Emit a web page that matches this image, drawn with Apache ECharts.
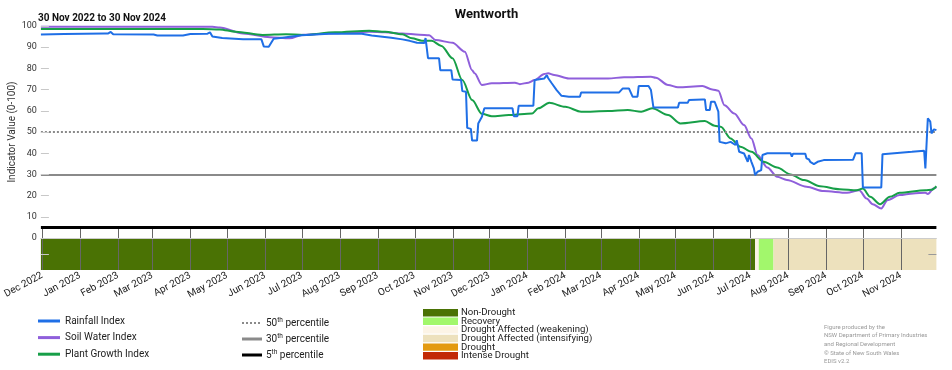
<!DOCTYPE html>
<html>
<head>
<meta charset="utf-8">
<script src="https://cdn.jsdelivr.net/npm/echarts@6/dist/echarts.min.js"></script>
<style>html,body{margin:0;padding:0;background:#fff;}#c{width:952px;height:370px;}</style>
</head>
<body>
<div id="c"></div>
<script>
// ---------- DATA ----------
const rainDates = ['2022-11-30','2022-12-19','2023-01-21','2023-01-24','2023-01-26','2023-01-28','2023-03-02','2023-03-05','2023-03-26','2023-04-01','2023-04-15','2023-04-17','2023-04-19','2023-04-27','2023-05-14','2023-05-29','2023-05-31','2023-06-04','2023-06-08','2023-06-15','2023-07-01','2023-07-23','2023-08-19','2023-08-27','2023-09-12','2023-09-21','2023-09-27','2023-10-03','2023-10-09','2023-10-10','2023-10-11','2023-10-12','2023-10-21','2023-10-22','2023-10-31','2023-11-01','2023-11-08','2023-11-09','2023-11-12','2023-11-13','2023-11-16','2023-11-17','2023-11-21','2023-11-22','2023-11-25','2023-11-27','2023-12-20','2023-12-21','2023-12-24','2023-12-25','2024-01-06','2024-01-07','2024-01-15','2024-01-17','2024-01-18','2024-01-21','2024-01-25','2024-01-29','2024-02-04','2024-02-13','2024-02-14','2024-03-16','2024-03-19','2024-03-24','2024-03-27','2024-03-31','2024-04-01','2024-04-09','2024-04-11','2024-04-13','2024-05-03','2024-05-04','2024-05-11','2024-05-12','2024-05-23','2024-05-25','2024-05-26','2024-05-29','2024-05-30','2024-06-02','2024-06-05','2024-06-06','2024-06-11','2024-06-15','2024-06-19','2024-06-20','2024-06-22','2024-06-26','2024-06-29','2024-06-30','2024-07-02','2024-07-04','2024-07-05','2024-07-07','2024-07-10','2024-07-11','2024-07-15','2024-08-03','2024-08-04','2024-08-05','2024-08-15','2024-08-16','2024-08-18','2024-08-19','2024-08-22','2024-08-25','2024-08-30','2024-09-23','2024-09-25','2024-09-30','2024-10-01','2024-10-16','2024-10-17','2024-11-10','2024-11-20','2024-11-21','2024-11-23','2024-11-25','2024-11-26','2024-11-28','2024-11-30'];
const rainValues = [96.0,96.2,96.5,96.5,97.2,96.1,96.0,95.5,95.5,96.2,96.4,97.0,95.0,94.3,93.8,93.7,90.3,90.2,94.0,94.5,95.6,96.3,96.3,95.5,94.5,93.7,93.0,92.1,92.0,94.3,94.3,84.8,84.8,79.2,79.2,74.8,74.5,69.3,69.0,52.0,51.5,46.0,46.0,54.0,57.2,61.2,61.2,57.5,57.5,62.4,62.4,74.5,75.3,76.9,75.5,73.0,69.8,67.1,66.7,66.7,68.7,68.7,70.6,70.6,66.7,66.7,71.7,71.7,69.8,61.6,61.6,63.8,63.8,65.1,65.4,65.4,60.4,60.4,64.3,64.3,59.6,45.4,44.7,45.4,43.9,46.2,40.7,39.9,36.0,39.2,36.0,32.9,29.7,31.3,32.1,39.2,40.0,40.0,38.4,39.8,39.8,37.6,37.1,36.0,34.9,36.0,36.8,37.0,40.0,40.0,23.9,23.9,39.6,40.7,41.2,32.9,56.5,54.9,49.4,51.3,50.9];

const soilDates = ['2022-11-30','2023-04-19','2023-04-25','2023-05-14','2023-06-05','2023-06-21','2023-07-02','2023-07-28','2023-08-25','2023-09-07','2023-09-21','2023-10-05','2023-10-13','2023-10-18','2023-11-01','2023-11-11','2023-11-17','2023-11-19','2023-11-25','2023-12-03','2023-12-22','2023-12-26','2024-01-02','2024-01-07','2024-01-15','2024-01-18','2024-01-23','2024-02-04','2024-03-07','2024-03-20','2024-04-11','2024-04-15','2024-04-25','2024-05-03','2024-05-23','2024-05-31','2024-06-05','2024-06-10','2024-06-18','2024-06-26','2024-07-02','2024-07-07','2024-07-15','2024-07-23','2024-07-31','2024-08-16','2024-08-30','2024-09-18','2024-09-28','2024-10-04','2024-10-09','2024-10-16','2024-10-21','2024-10-31','2024-11-11','2024-11-21','2024-11-23','2024-11-28','2024-11-30'];
const soilValues = [99.7,99.6,99.3,96.5,94.7,94.2,95.9,96.6,97.3,97.0,96.5,95.9,95.6,93.4,92.1,87.9,79.2,77.7,72.2,73.0,73.3,72.6,73.3,74.5,77.4,77.7,76.9,75.3,75.3,75.8,76.1,75.6,72.2,71.1,71.7,70.1,69.5,62.7,58.8,53.3,47.0,39.2,33.3,28.9,27.4,24.2,22.2,21.4,22.6,18.7,16.0,14.0,17.9,20.3,21.1,21.4,20.8,23.5,24.0];

const plantDates = ['2022-11-30','2023-04-11','2023-04-25','2023-05-08','2023-05-30','2023-06-18','2023-07-02','2023-07-28','2023-08-25','2023-09-07','2023-09-21','2023-09-29','2023-10-07','2023-10-15','2023-10-23','2023-11-01','2023-11-09','2023-11-17','2023-11-25','2023-12-03','2023-12-17','2024-01-05','2024-01-10','2024-01-19','2024-02-01','2024-02-14','2024-03-07','2024-03-23','2024-04-03','2024-04-12','2024-04-25','2024-05-05','2024-05-25','2024-06-02','2024-06-07','2024-06-15','2024-06-23','2024-07-02','2024-07-12','2024-07-23','2024-08-03','2024-08-14','2024-08-27','2024-09-12','2024-09-26','2024-10-01','2024-10-07','2024-10-15','2024-10-23','2024-10-31','2024-11-21','2024-11-26','2024-11-30'];
const plantValues = [98.6,98.6,98.4,97.3,95.8,96.1,95.8,97.0,97.8,97.3,96.1,94.2,93.1,93.0,90.6,84.8,74.5,65.1,58.6,57.5,58.0,58.8,61.2,63.8,61.9,59.6,59.9,60.4,59.6,61.2,58.0,54.1,55.2,53.0,52.5,47.0,43.1,40.7,36.0,33.3,30.0,27.4,24.5,23.1,22.6,23.4,19.5,16.0,19.5,21.4,22.6,22.8,24.5];

const droughtStart = ['2022-11-30','2024-07-05','2024-07-08','2024-07-20'];
const droughtEnd   = ['2024-07-05','2024-07-08','2024-07-20','2024-11-30'];
const droughtCategory = ['Non-Drought','Drought Affected (weakening)','Recovery','Drought Affected (intensifying)'];

const categoryNames = ['Non-Drought','Recovery','Drought Affected (weakening)','Drought Affected (intensifying)','Drought','Intense Drought'];
const percentileNames = ['50','30','5'];
const percentileValues = [50, 30, 5];

const monthTicks = ['2022-12-01','2023-01-01','2023-02-01','2023-03-01','2023-04-01','2023-05-01','2023-06-01','2023-07-01','2023-08-01','2023-09-01','2023-10-01','2023-11-01','2023-12-01','2024-01-01','2024-02-01','2024-03-01','2024-04-01','2024-05-01','2024-06-01','2024-07-01','2024-08-01','2024-09-01','2024-10-01','2024-11-01'];
const yTickLabels = [0,10,20,30,40,50,60,70,80,90,100];

// ---------- STYLE ----------
const FONT = 'Roboto, "Liberation Sans", sans-serif';
const categoryColors = {
  'Non-Drought':'#4a7204',
  'Recovery':'#a2f76c',
  'Drought Affected (weakening)':'#fcf4e6',
  'Drought Affected (intensifying)':'#ede1bd',
  'Drought':'#e39a10',
  'Intense Drought':'#c22a06'
};
const seriesColors = {rain:'#1f6fe6', soil:'#8f5fdb', plant:'#179f48'};
const pctStyles = [
  {color:'#8a8a8a', width:2, type:[2,2]},
  {color:'#8a8a8a', width:2, type:'solid'},
  {color:'#000000', width:3, type:'solid'}
];
const MONTHS = ['Jan','Feb','Mar','Apr','May','Jun','Jul','Aug','Sep','Oct','Nov','Dec'];

const pd = s => { const p = s.split('-').map(Number); return Date.UTC(p[0], p[1]-1, p[2]); };
const zip = (d, v) => d.map((x, i) => [pd(x), v[i]]);

const chart = echarts.init(document.getElementById('c'), null, {renderer:'canvas'});

const legendGraphics = [];
percentileNames.forEach((p, i) => {
  const y = 323 + i * 16;
  legendGraphics.push({type:'line', shape:{x1:242, y1:y, x2:262, y2:y}, style:{stroke:pctStyles[i].color, lineWidth: i===0 ? 2 : 3, lineDash: i===0 ? [2,2] : null}});
  legendGraphics.push({type:'text', x:266, y:y, style:{text:'{a|'+p+'}{s|th}{a| percentile}', textVerticalAlign:'middle', rich:{a:{fontSize:10, fontFamily:FONT, fill:'#222'}, s:{fontSize:6.5, fontFamily:FONT, fill:'#222', verticalAlign:'top', padding:[0,0,5,0]}}}});
});
categoryNames.forEach((c, i) => {
  const y = 309 + i * 8.6;
  legendGraphics.push({type:'rect', shape:{x:423, y:y, width:35, height:7.4}, style:{fill:categoryColors[c]}});
  legendGraphics.push({type:'text', x:461, y:y + 3.8, style:{text:c, fontSize:9.6, fontFamily:FONT, fill:'#222', textVerticalAlign:'middle'}});
});

chart.setOption({
  animation:false,
  textStyle:{fontFamily:FONT},
  grid:{left:37.7, right:15.6, top:26, bottom:100},
  legend:{
    data:['Rainfall Index','Soil Water Index','Plant Growth Index'],
    orient:'vertical', left:38, top:314.5, height:60, padding:0, icon:'rect', itemWidth:22, itemHeight:3,
    itemGap:3.6, textStyle:{fontSize:10, color:'#222', lineHeight:13, fontFamily:FONT}
  },
  xAxis:{
    type:'value', min:pd('2022-11-30'), max:pd('2024-11-30'), z:10, scale:true,
    axisLine:{show:true, lineStyle:{color:'#cccccc', width:1}},
    axisTick:{show:false},
    axisLabel:{customValues:monthTicks.map(pd), rotate:28, margin:5, fontSize:10, color:'#222', fontFamily:FONT,
      formatter:v => { const d = new Date(v); return MONTHS[d.getUTCMonth()] + ' ' + d.getUTCFullYear(); }},
    splitLine:{show:false}
  },
  yAxis:[{
    type:'value', min:-15, max:100, z:10,
    axisLine:{show:false},
    axisTick:{show:true, inside:true, length:8, customValues:[-7.5].concat(yTickLabels), lineStyle:{color:'#c8c8c8'}},
    axisLabel:{customValues:yTickLabels, fontSize:9, color:'#333', margin:4, fontFamily:FONT},
    splitLine:{show:false}
  },{
    type:'value', min:-15, max:100, position:'right', z:10,
    axisLine:{show:false},
    axisTick:{show:true, inside:true, length:8, customValues:[-7.5], lineStyle:{color:'#999'}},
    axisLabel:{show:false}, splitLine:{show:false}
  }],
  series:[
    {
      type:'custom', name:'drought', z:1, silent:true,
      encode:{x:[0,1], y:3},
      data: droughtStart.map((s, i) => [pd(s), pd(droughtEnd[i]), categoryNames.indexOf(droughtCategory[i]), 0]),
      renderItem:(params, api) => {
        const a = api.coord([api.value(0), 0]);
        const b = api.coord([api.value(1), -15]);
        return {type:'rect', shape:{x:a[0], y:a[1], width:b[0]-a[0], height:b[1]-a[1]},
          style:{fill:categoryColors[categoryNames[api.value(2)]]}};
      }
    },
    {
      type:'custom', name:'monthLines', z:2, silent:true,
      encode:{x:0, y:1},
      data: monthTicks.map(t => [pd(t), 0]),
      renderItem:(params, api) => {
        const a = api.coord([api.value(0), 5]);
        const b = api.coord([api.value(0), -15]);
        const x = Math.round(a[0]) + 0.5;
        return {type:'line', shape:{x1:x, y1:a[1], x2:x, y2:b[1]}, style:{stroke:'#666', lineWidth:1}};
      }
    },
    {
      type:'line', name:'percentiles', data:[], z:1, silent:true,
      markLine:{silent:true, symbol:'none', label:{show:false}, animation:false,
        data: percentileValues.map((v, i) => ({yAxis:v, lineStyle:pctStyles[i]}))}
    },
    {type:'line', name:'Soil Water Index', data:zip(soilDates, soilValues), showSymbol:false, smooth:0.3, smoothMonotone:'x', color:seriesColors.soil, lineStyle:{width:2}, z:3},
    {type:'line', name:'Plant Growth Index', data:zip(plantDates, plantValues), showSymbol:false, smooth:0.3, smoothMonotone:'x', color:seriesColors.plant, lineStyle:{width:2}, z:4},
    {type:'line', name:'Rainfall Index', data:zip(rainDates, rainValues), showSymbol:false, color:seriesColors.rain, lineStyle:{width:2}, z:5}
  ],
  graphic:[
    {type:'text', x:486.5, y:15, style:{text:'Wentworth', fontSize:13, fontWeight:'bold', fontFamily:FONT, fill:'#111', textAlign:'center', textVerticalAlign:'middle'}},
    {type:'text', x:38, y:18, style:{text:'30 Nov 2022 to 30 Nov 2024', fontSize:10, fontWeight:'bold', fontFamily:FONT, fill:'#111', textVerticalAlign:'middle'}},
    {type:'text', x:12, y:132, rotation:Math.PI/2, style:{text:'Indicator Value (0-100)', fontSize:10, fontFamily:FONT, fill:'#333', textAlign:'center', textVerticalAlign:'middle'}},
    {type:'text', x:824, y:323, style:{text:'Figure produced by the\nNSW Department of Primary Industries\nand Regional Development\n© State of New South Wales\nEDIS v2.2', fontSize:6, lineHeight:8.6, fontFamily:FONT, fill:'#999'}}
  ].concat(legendGraphics)
});
</script>
</body>
</html>
